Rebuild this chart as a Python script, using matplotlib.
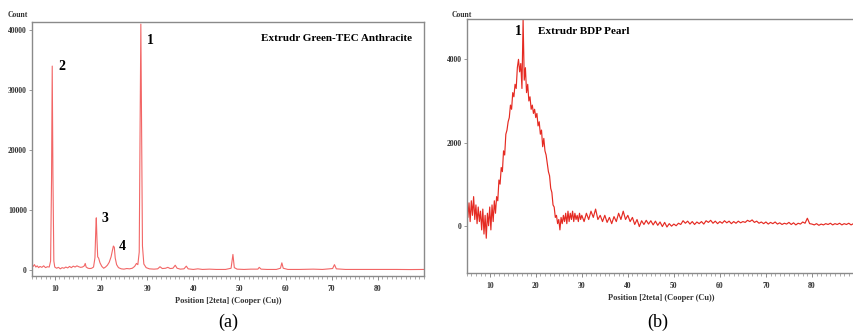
import numpy as np
import matplotlib
matplotlib.use("Agg")
import matplotlib.pyplot as plt
from matplotlib.ticker import MultipleLocator

# ---- Panel (a): Extrudr Green-TEC Anthracite diffractogram ----
a_pos = [5.0, 5.1, 5.3, 5.6, 5.9, 6.2, 6.5, 6.8, 7.2, 7.6, 8.0, 8.4, 8.8, 9.1, 9.3,
         9.45, 9.6, 9.8, 10.0, 10.4, 10.8, 11.2, 11.6, 12.0, 12.4, 12.8, 13.2, 13.6,
         14.0, 14.4, 14.8, 15.2, 15.6, 16.0, 16.4, 16.6, 16.8, 17.2, 17.6, 18.0, 18.4,
         18.7, 18.9, 19.0, 19.15, 19.3, 19.5, 19.8, 20.2, 20.6, 21.0, 21.4, 21.8, 22.2,
         22.5, 22.7, 22.9, 23.1, 23.4, 23.8, 24.4, 25.0, 25.6, 26.2, 26.8, 27.3, 27.7,
         28.0, 28.3, 28.5, 28.65, 28.8, 29.0, 29.3, 29.8, 30.5, 31.5, 32.3, 32.8, 33.3,
         34.0, 34.5, 35.0, 35.6, 36.1, 36.5, 37.2, 38.0, 38.5, 38.9, 40.0, 41.0, 42.0,
         43.5, 45.0, 47.0, 48.2, 48.6, 48.9, 49.5, 51.0, 52.5, 54.0, 54.3, 54.7, 56.0,
         58.0, 58.9, 59.2, 59.5, 60.5, 63.0, 66.0, 68.0, 70.2, 70.6, 71.0, 73.0, 76.0,
         80.0, 84.0, 87.0, 90.0]
a_counts = [2200, 800, 600, 900, 500, 700, 400, 600, 450, 700, 400, 550, 500, 1500, 15000,
            34000, 16000, 1500, 500, 300, 450, 200, 400, 300, 500, 350, 600, 400,
            650, 500, 700, 550, 450, 500, 700, 1100, 500, 300, 250, 300, 500,
            2000, 7000, 8700, 5000, 2200, 2000, 1200, 600, 300, 500, 800, 1300, 2200,
            3300, 4000, 3800, 2000, 900, 400, 200, 150, 250, 200, 300, 600, 1100,
            900, 3000, 25000, 41000, 25000, 4000, 1000, 400, 200, 150, 200, 550, 250,
            300, 450, 250, 300, 800, 300, 150, 200, 650, 200, 100, 200, 100,
            150, 100, 100, 300, 2600, 400, 150, 100, 150, 150, 450, 150, 100,
            100, 300, 1200, 300, 100, 100, 150, 100, 250, 900, 200, 100, 100,
            100, 100, 80, 100]
a_peak_labels = ["1", "2", "3", "4"]
a_peak_pos = [30.7, 11.5, 20.9, 24.6]
a_peak_cnt = [38300, 34000, 8550, 3900]

# ---- Panel (b): Extrudr BDP Pearl diffractogram ----
b_lead_pos = [5.0, 5.02, 5.05]
b_lead_counts = [1500, -1100, 400]
b_fine_counts = [  # 5.25 .. 29.75, step 0.25
    200, 550, 100, 600, 250, 700, 150, 500, 50, 450, 100, 350,
    -100, 400, -200, 250, -300, 300, 0, 450, -100, 500, 100, 600,
    300, 700, 600, 1100, 1000, 1400, 1300, 1800, 1700, 2200, 2300, 2500,
    2600, 2900, 2800, 3200, 3100, 3400, 3300, 3800, 4000, 3700, 3900, 3300,
    4950, 3500, 3800, 3200, 3400, 3000, 3100, 2800, 2900, 2700, 2800, 2600,
    2700, 2400, 2500, 2200, 2300, 1900, 2100, 1800, 1700, 1500, 1300, 1200,
    900, 800, 500, 450, 200, 250, 50, 150, -100, 200, 50, 250, 100,
    300, 50, 350, 100, 300, 150, 350, 100, 300, 150, 250, 100, 300, 150]
b_coarse_counts = [  # 30.0 .. 90.0, step 0.5
    250, 100, 300, 150, 350, 200, 400, 150, 250, 100, 250, 80, 200, 50, 220, 100,
    300, 150, 350, 150, 250, 100, 200, 30, 150, -20, 120, 30, 130, 40, 120,
    20, 110, 10, 90, -20, 80, -30, 50, -10, 40, 0, 60, 30, 120, 60, 110, 40, 100,
    30, 90, 50, 100, 40, 120, 80, 130, 60, 110, 50, 100,
    60, 120, 70, 110, 50, 100, 60, 110, 70, 100, 80, 130, 100, 140, 80, 110, 60,
    90, 50, 90, 40, 80, 50, 90, 40, 70, 30, 60, 40, 80,
    30, 70, 20, 60, 40, 90, 60, 180, 50, 40, 20, 50, 10, 40, 20, 50, 30, 60, 20,
    50, 30, 60, 20, 50, 30, 60, 20, 50, 30, 40]
b_pos = np.concatenate([b_lead_pos,
                        5.25 + 0.25 * np.arange(len(b_fine_counts)),
                        30.0 + 0.5 * np.arange(len(b_coarse_counts))])
b_counts = np.concatenate([b_lead_counts, b_fine_counts, b_coarse_counts])
b_peak_labels = ["1"]
b_peak_pos = [16.3]
b_peak_cnt = [4680]

serif = ["Liberation Serif", "DejaVu Serif"]
frame_col = "#8a8a8a"

fig = plt.figure(figsize=(8.54, 3.35), dpi=100)
ax_a = fig.add_axes([0.0371, 0.176, 0.4594, 0.758])
ax_b = fig.add_axes([0.5465, 0.185, 0.4560, 0.757])


def style_axes(ax, xlim, ylim, ystep):
    ax.set_xlim(*xlim)
    ax.set_ylim(*ylim)
    ax.xaxis.set_major_locator(MultipleLocator(10))
    ax.xaxis.set_minor_locator(MultipleLocator(1))
    ax.yaxis.set_major_locator(MultipleLocator(ystep))
    ax.tick_params(axis="x", which="major", direction="out", length=3, width=0.7,
                   color=frame_col, pad=3.5)
    ax.tick_params(axis="x", which="minor", direction="out", length=2, width=0.5,
                   color=frame_col)
    ax.tick_params(axis="y", which="major", direction="out", length=2, width=0.6,
                   color=frame_col, pad=1.5)
    for lab in ax.get_xticklabels() + ax.get_yticklabels():
        lab.set_fontfamily(serif)
        lab.set_fontweight("bold")
        lab.set_fontsize(5.5)
        lab.set_color("#333333")
    for sp in ax.spines.values():
        sp.set_color(frame_col)
        sp.set_linewidth(1.0)
    ax.set_xlabel("Position [2teta] (Cooper (Cu))", fontfamily=serif,
                  fontweight="bold", fontsize=6, color="#333333", labelpad=2.5)


ax_a.plot(a_pos, a_counts, color="#f26666", lw=0.8)
style_axes(ax_a, (5, 90), (-1000, 41330), 10000)
ax_a.set_xticks(range(10, 90, 10))
ax_a.text(0.97, 0.955, "Extrudr Green-TEC Anthracite", transform=ax_a.transAxes,
          ha="right", va="top", fontfamily=serif, fontweight="bold", fontsize=8)
for lab, x, y in zip(a_peak_labels, a_peak_pos, a_peak_cnt):
    ax_a.text(x, y, lab, ha="center", va="center", fontfamily=serif,
              fontweight="bold", fontsize=10)

ax_b.plot(b_pos, b_counts, color="#e52a22", lw=0.85)
style_axes(ax_b, (5, 89.6), (-1137, 4960), 2000)
ax_b.set_xticks(range(10, 90, 10))
ax_b.spines["right"].set_visible(False)
ax_b.text(20.4, 4680, "Extrudr BDP Pearl", ha="left", va="center",
          fontfamily=serif, fontweight="bold", fontsize=8)
for lab, x, y in zip(b_peak_labels, b_peak_pos, b_peak_cnt):
    ax_b.text(x, y, lab, ha="center", va="center", fontfamily=serif,
              fontweight="bold", fontsize=10)

for x0 in (8 / 854, 452 / 854):
    fig.text(x0, 1 - 15 / 335, "Count", ha="left", va="center", fontfamily=serif,
             fontweight="bold", fontsize=5.5, color="#333333")

fig.text(228 / 854, 1 - 322 / 335, "(a)", ha="center", va="center",
         fontfamily=serif, fontsize=13)
fig.text(658 / 854, 1 - 322 / 335, "(b)", ha="center", va="center",
         fontfamily=serif, fontsize=13)

fig.savefig("out.png", dpi=100, facecolor="white")
